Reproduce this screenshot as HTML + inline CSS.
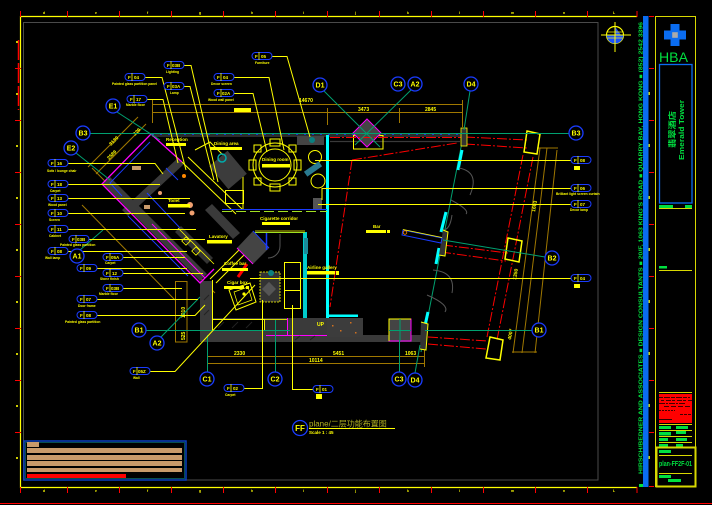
<!DOCTYPE html>
<html><head><meta charset="utf-8"><style>
html,body{margin:0;padding:0;background:#000;}
svg{display:block}
text{font-family:"Liberation Sans","Noto Sans CJK SC",sans-serif;font-weight:bold;}
</style></head><body>
<svg width="712" height="505" viewBox="0 0 712 505" xmlns="http://www.w3.org/2000/svg">
<rect width="712" height="505" fill="#000"/>

<!-- ===== FRAME ===== -->
<line x1="0" y1="503.5" x2="712" y2="503.5" stroke="#f00" stroke-width="1"/>
<polyline points="637,16.5 20.5,16.5 20.5,487.5 637,487.5" fill="none" stroke="#ff0" stroke-width="1.2"/>
<rect x="23.5" y="22.5" width="574.5" height="457.5" fill="none" stroke="#4a4a4a" stroke-width="1"/>
<g stroke="#f00" stroke-width="1">
<line x1="20.5" y1="11" x2="20.5" y2="17"/><line x1="67.5" y1="11" x2="67.5" y2="17"/><line x1="119.5" y1="11" x2="119.5" y2="17"/><line x1="171.5" y1="11" x2="171.5" y2="17"/><line x1="223.5" y1="11" x2="223.5" y2="17"/><line x1="275.5" y1="11" x2="275.5" y2="17"/><line x1="327.5" y1="11" x2="327.5" y2="17"/><line x1="379.5" y1="11" x2="379.5" y2="17"/><line x1="431.5" y1="11" x2="431.5" y2="17"/><line x1="483.5" y1="11" x2="483.5" y2="17"/><line x1="535.5" y1="11" x2="535.5" y2="17"/><line x1="587.5" y1="11" x2="587.5" y2="17"/><line x1="637" y1="11" x2="637" y2="17"/>
<line x1="20.5" y1="487" x2="20.5" y2="493"/><line x1="67.5" y1="487" x2="67.5" y2="493"/><line x1="119.5" y1="487" x2="119.5" y2="493"/><line x1="171.5" y1="487" x2="171.5" y2="493"/><line x1="223.5" y1="487" x2="223.5" y2="493"/><line x1="275.5" y1="487" x2="275.5" y2="493"/><line x1="327.5" y1="487" x2="327.5" y2="493"/><line x1="379.5" y1="487" x2="379.5" y2="493"/><line x1="431.5" y1="487" x2="431.5" y2="493"/><line x1="483.5" y1="487" x2="483.5" y2="493"/><line x1="535.5" y1="487" x2="535.5" y2="493"/><line x1="587.5" y1="487" x2="587.5" y2="493"/><line x1="637" y1="487" x2="637" y2="493"/>
<line x1="15" y1="68.5" x2="21" y2="68.5"/><line x1="15" y1="120.5" x2="21" y2="120.5"/><line x1="15" y1="172.5" x2="21" y2="172.5"/><line x1="15" y1="224.5" x2="21" y2="224.5"/><line x1="15" y1="276.5" x2="21" y2="276.5"/><line x1="15" y1="328.5" x2="21" y2="328.5"/><line x1="15" y1="380.5" x2="21" y2="380.5"/><line x1="15" y1="432.5" x2="21" y2="432.5"/>
<line x1="649" y1="16.5" x2="654" y2="16.5"/><line x1="649" y1="68.5" x2="654" y2="68.5"/><line x1="649" y1="120.5" x2="654" y2="120.5"/><line x1="649" y1="172.5" x2="654" y2="172.5"/><line x1="649" y1="224.5" x2="654" y2="224.5"/><line x1="649" y1="276.5" x2="654" y2="276.5"/><line x1="649" y1="328.5" x2="654" y2="328.5"/><line x1="649" y1="380.5" x2="654" y2="380.5"/><line x1="649" y1="432.5" x2="654" y2="432.5"/><line x1="649" y1="486.5" x2="654" y2="486.5"/>
</g>
<line x1="18.5" y1="40" x2="18.5" y2="110" stroke="#f00" stroke-width="1.5" stroke-dasharray="20,3"/>
<g fill="#ff0" font-size="3.5">
<text x="43" y="14">d</text><text x="95" y="14">e</text><text x="147" y="14">f</text><text x="199" y="14">g</text><text x="251" y="14">h</text><text x="303" y="14">i</text><text x="355" y="14">j</text><text x="407" y="14">k</text><text x="459" y="14">l</text><text x="511" y="14">m</text><text x="563" y="14">n</text><text x="613" y="14">L</text>
<text x="43" y="492">d</text><text x="95" y="492">e</text><text x="147" y="492">f</text><text x="199" y="492">g</text><text x="251" y="492">h</text><text x="303" y="492">i</text><text x="355" y="492">j</text><text x="407" y="492">k</text><text x="459" y="492">l</text><text x="511" y="492">m</text><text x="563" y="492">n</text><text x="613" y="492">L</text>
</g>
<g fill="#cc0"><rect x="16" y="41" width="2" height="2"/><rect x="16" y="93" width="2" height="2"/><rect x="16" y="145" width="2" height="2"/><rect x="16" y="197" width="2" height="2"/><rect x="16" y="249" width="2" height="2"/><rect x="16" y="301" width="2" height="2"/><rect x="16" y="353" width="2" height="2"/><rect x="16" y="405" width="2" height="2"/><rect x="16" y="457" width="2" height="2"/>
<rect x="648" y="92" width="2" height="3"/><rect x="648" y="144" width="2" height="3"/><rect x="648" y="196" width="2" height="3"/><rect x="648" y="248" width="2" height="3"/><rect x="648" y="300" width="2" height="3"/><rect x="648" y="352" width="2" height="3"/><rect x="648" y="404" width="2" height="3"/><rect x="648" y="456" width="2" height="3"/></g>

<!-- compass -->
<g>
<circle cx="615" cy="35" r="8.5" fill="#000" stroke="#ff0" stroke-width="1.2"/>
<path d="M606.5,35 A8.5,8.5 0 0 0 623.5,35 Z" fill="#1a50ff"/>
<path d="M615,26.5 L621,35 L615,35 Z" fill="#1a50ff"/>
<line x1="601" y1="35" x2="631" y2="35" stroke="#ff0" stroke-width="1"/>
<line x1="615" y1="22" x2="615" y2="52" stroke="#ff0" stroke-width="1"/>
<line x1="607" y1="32" x2="623" y2="32" stroke="#ff0" stroke-width="0.7"/>
<line x1="607" y1="38" x2="623" y2="38" stroke="#ff0" stroke-width="0.7"/>
</g>

<!-- blue bar + vertical green text -->
<rect x="643" y="16" width="5.5" height="471" fill="#0a6cf0"/>
<text transform="translate(642.6,474) rotate(-90)" font-size="5.5" fill="#00e040" textLength="452" lengthAdjust="spacingAndGlyphs">HIRSCH/BEDNER AND ASSOCIATES ■ DESIGN CONSULTANTS ■ 20/F, 1063 KING'S ROAD ■ QUARRY BAY, HONG KONG ■ (852) 2542 3396</text>
<rect x="639" y="484" width="4" height="3" fill="#00e040"/>

<!-- ===== TITLE BLOCK ===== -->
<rect x="655.5" y="16.5" width="40" height="470" fill="none" stroke="#d8d800" stroke-width="1"/>
<g transform="translate(675,35)">
<rect x="-4.5" y="-11" width="9" height="22" fill="#0a6cf0"/>
<rect x="-11" y="-4.5" width="22" height="9" fill="#0a6cf0"/>
<rect x="-6" y="-6" width="12" height="12" fill="#0a6cf0" transform="rotate(45)"/>
<rect x="-2.8" y="-2.8" width="5.6" height="5.6" fill="#aaa"/>
</g>
<text x="659" y="62" font-size="14" fill="#00e040" textLength="29" lengthAdjust="spacingAndGlyphs" style="font-weight:normal">HBA</text>
<rect x="659.5" y="64.5" width="32.5" height="138.5" fill="none" stroke="#0a6cf0" stroke-width="1.3"/>
<text transform="translate(675,148) rotate(-90)" font-size="8" fill="#00e040" textLength="37" lengthAdjust="spacingAndGlyphs">翡翠酒店</text>
<text transform="translate(684,160) rotate(-90)" font-size="7" fill="#00e040" textLength="60" lengthAdjust="spacingAndGlyphs">Emerald Tower</text>
<rect x="659" y="205" width="14" height="3" fill="#00e040"/><rect x="685" y="205" width="7" height="3" fill="#00e040"/>
<line x1="659" y1="208.5" x2="692" y2="208.5" stroke="#d8d800"/>
<rect x="659" y="266" width="8" height="2.5" fill="#00e040"/>
<line x1="659" y1="270.5" x2="692" y2="270.5" stroke="#d8d800"/>
<line x1="659" y1="392.5" x2="692" y2="392.5" stroke="#d8d800"/>
<rect x="659" y="394" width="33" height="29" fill="#f00"/>
<g stroke="#000" stroke-width="0.8">
<line x1="659" y1="397.5" x2="690" y2="397.5" stroke-dasharray="4,1,6,1"/>
<line x1="661" y1="400.5" x2="692" y2="400.5" stroke-dasharray="3,2,5,1"/>
<line x1="659" y1="403.5" x2="685" y2="403.5" stroke-dasharray="6,1,2,1"/>
<line x1="664" y1="406.5" x2="692" y2="406.5" stroke-dasharray="5,2"/>
<line x1="659" y1="410.5" x2="675" y2="410.5" stroke-dasharray="2,1"/>
<line x1="680" y1="414.5" x2="692" y2="414.5" stroke-dasharray="3,1"/>
<line x1="659" y1="419.5" x2="672" y2="419.5"/>
</g>
<line x1="659" y1="424.5" x2="692" y2="424.5" stroke="#d8d800"/>
<g fill="#00e040">
<rect x="659" y="426" width="12" height="3"/><rect x="676" y="426" width="12" height="3"/>
<rect x="659" y="432" width="12" height="3.5"/><rect x="676" y="431" width="10" height="3"/>
<rect x="659" y="438" width="9" height="3"/><rect x="676" y="438" width="11" height="3"/>
<rect x="659" y="444" width="9" height="3"/><rect x="676" y="444" width="7" height="3"/>
</g>
<g stroke="#d8d800"><line x1="659" y1="430.5" x2="692" y2="430.5"/><line x1="659" y1="436.5" x2="692" y2="436.5"/><line x1="659" y1="442.5" x2="692" y2="442.5"/></g>
<rect x="656.5" y="447.5" width="39" height="39" fill="none" stroke="#d8d800" stroke-width="2"/>
<rect x="659" y="450" width="12" height="3" fill="#00e040"/>
<line x1="659" y1="455.5" x2="692" y2="455.5" stroke="#d8d800"/>
<text x="659" y="466" font-size="7" fill="#00e040" textLength="33" lengthAdjust="spacingAndGlyphs">plan-FF2F-01</text>
<line x1="659" y1="473.5" x2="692" y2="473.5" stroke="#d8d800"/>
<rect x="659" y="475" width="12" height="3" fill="#00e040"/>
<rect x="668" y="479" width="13" height="3" fill="#00e040"/>

<!-- ===== LEGEND BOX ===== -->
<rect x="24" y="441" width="162" height="39" fill="#000" stroke="#0a40c0" stroke-width="1.5"/>
<rect x="25.5" y="442.5" width="159" height="36" fill="none" stroke="#0a7070" stroke-width="0.7"/>
<g fill="#c89a6a">
<rect x="27" y="442" width="12" height="5"/>
<rect x="27" y="448" width="155" height="5"/>
<rect x="27" y="455" width="155" height="5"/>
<rect x="27" y="461" width="155" height="5"/>
<rect x="27" y="468" width="155" height="4"/>
</g>
<rect x="27" y="474" width="99" height="4" fill="#f00"/>

<!-- ===== TITLE FF ===== -->
<circle cx="300" cy="428" r="7.5" fill="#000" stroke="#1a3cff" stroke-width="1.3"/>
<text x="300" y="431" font-size="8" fill="#ff0" text-anchor="middle">FF</text>
<text x="309" y="426.5" font-size="8" fill="#b0b020" style="font-weight:normal">plane/二层功能布置图</text>
<line x1="309" y1="428.5" x2="395" y2="428.5" stroke="#ff0" stroke-width="1"/>
<text x="309" y="434" font-size="4.5" fill="#ff0">Scale 1 : 45</text>

<!-- ===== PLAN: dimension lines (brown) ===== -->
<g stroke="#a07800" stroke-width="1" fill="none">
<line x1="152" y1="104.5" x2="463" y2="104.5"/>
<line x1="152" y1="112.5" x2="463" y2="112.5"/>
<line x1="152.5" y1="100" x2="152.5" y2="123"/>
<line x1="327.5" y1="108" x2="327.5" y2="125"/>
<line x1="399.5" y1="108" x2="399.5" y2="123"/>
<line x1="462.5" y1="100" x2="462.5" y2="127"/>
<line x1="207" y1="356.5" x2="425" y2="356.5"/>
<line x1="207" y1="363.5" x2="425" y2="363.5"/>
<line x1="207.5" y1="340" x2="207.5" y2="367"/>
<line x1="399.5" y1="345" x2="399.5" y2="358"/>
<line x1="424.5" y1="340" x2="424.5" y2="367"/>
<rect x="175.5" y="281.5" width="11.5" height="60.5"/>
<line x1="138" y1="117" x2="88" y2="167"/>
<line x1="146" y1="124" x2="96" y2="174"/>
<line x1="92" y1="168" x2="215" y2="293"/>
<line x1="82" y1="205" x2="175" y2="300"/>
<line x1="540" y1="148" x2="513" y2="353"/>
<line x1="547" y1="148" x2="522" y2="353"/>
<line x1="557" y1="150" x2="535" y2="353"/>
<line x1="537" y1="148" x2="558" y2="148"/>
<line x1="512" y1="352" x2="537" y2="352"/>
</g>
<g fill="#ff0" font-size="5">
<text x="299" y="102">14670</text>
<rect x="234" y="108" width="17" height="4"/>
<text x="358" y="111">3473</text>
<text x="425" y="111">2845</text>
<text x="234" y="355">2330</text>
<text x="333" y="355">5451</text>
<text x="405" y="355">1063</text>
<text x="309" y="362">10114</text>
<text transform="translate(111,146) rotate(-45)">3130</text>
<text transform="translate(109,160) rotate(-45)">2589</text>
<text transform="translate(135,136) rotate(-45)">329</text>
<text transform="translate(185,318) rotate(-90)">1010</text>
<text transform="translate(185,340) rotate(-90)">525</text>
<text transform="translate(535,212) rotate(-80)">1603</text>
<text transform="translate(516,280) rotate(-80)">1350</text>
<text transform="translate(511,340) rotate(-80)">4007</text>
</g>

<!-- ===== walls / structure ===== -->
<rect x="200" y="318" width="130" height="24" fill="#3a3a3a"/>
<rect x="327" y="335" width="95" height="7" fill="#3a3a3a"/>
<rect x="200" y="281" width="12" height="61" fill="#3a3a3a"/>
<rect x="212.5" y="319.5" width="52" height="11" fill="#000" stroke="#ff0" stroke-width="1"/>
<rect x="264.5" y="319.5" width="23" height="11" fill="#2a2a2a" stroke="#ff0" stroke-width="0.8"/>
<line x1="212.5" y1="280" x2="212.5" y2="320" stroke="#ff0"/>
<line x1="287.5" y1="318" x2="287.5" y2="336" stroke="#f0f"/>
<line x1="266" y1="335.5" x2="327" y2="335.5" stroke="#f0f"/>
<g stroke="#222" stroke-width="1"><line x1="218" y1="328" x2="224" y2="322"/><line x1="232" y1="328" x2="238" y2="322"/><line x1="246" y1="328" x2="252" y2="322"/><line x1="204" y1="300" x2="209" y2="295"/><line x1="204" y1="315" x2="209" y2="310"/><line x1="295" y1="340" x2="300" y2="336"/><line x1="310" y1="340" x2="315" y2="336"/></g>
<rect x="327" y="318" width="36" height="19" fill="#3c3c3c"/>
<g fill="#d07020"><rect x="332" y="325" width="1.5" height="1.5"/><rect x="340" y="330" width="1.5" height="1.5"/><rect x="350" y="322" width="1.5" height="1.5"/><rect x="355" y="332" width="1.5" height="1.5"/></g>
<rect x="389" y="319" width="22" height="22" fill="#444" stroke="#f0f" stroke-width="1"/>
<polyline points="389,341 389,319 411,319" fill="none" stroke="#ff0" stroke-width="1"/>

<!-- top wall -->
<rect x="152" y="134" width="313" height="3" fill="#2c2c2c"/>
<line x1="152" y1="134.5" x2="465" y2="134.5" stroke="#1a3cff" stroke-width="0.8" stroke-dasharray="2,6"/>
<rect x="297" y="136" width="27" height="9" fill="#444"/>
<circle cx="312" cy="140" r="3" fill="#0a8080"/>
<line x1="330" y1="141.5" x2="460" y2="141.5" stroke="#3a3a3a" stroke-width="1.2"/>

<!-- cyan interior wall -->
<rect x="326" y="135" width="3" height="183" fill="#0ff"/>
<rect x="326" y="314.5" width="32" height="2.5" fill="#0ff"/>
<rect x="303" y="232" width="4" height="86" fill="#0cc"/>
<rect x="304" y="238" width="4" height="16" fill="#1a8a9a"/>

<!-- top diamond column -->
<rect x="353.5" y="135.5" width="29.5" height="13.5" fill="none" stroke="#ff0" stroke-width="1"/>
<polygon points="367,119 381,133 367,147 353,133" fill="#444" stroke="#f0f" stroke-width="1"/>

<!-- red lines -->
<g stroke="#f00" stroke-width="1" fill="none" stroke-dasharray="10,2,2,2">
<line x1="330" y1="137.5" x2="463" y2="137.5"/>
<line x1="352" y1="160" x2="330" y2="307"/>
<line x1="352" y1="160" x2="457" y2="143"/>
<line x1="465" y1="137" x2="527" y2="140"/>
<line x1="465" y1="144" x2="527" y2="148"/>
<line x1="443" y1="245" x2="508" y2="253"/>
<line x1="441" y1="252" x2="506" y2="261"/>
<line x1="428" y1="337" x2="487" y2="341"/>
<line x1="428" y1="344" x2="486" y2="349"/>
<line x1="523" y1="155" x2="487" y2="337"/>
<line x1="533" y1="157" x2="497" y2="340"/>
</g>

<!-- curtain wall -->
<line x1="464" y1="132" x2="421" y2="352" stroke="#00a070" stroke-width="1"/>
<g stroke="#0ff" stroke-width="3"><line x1="462" y1="150" x2="458" y2="170"/><line x1="446" y1="212" x2="441" y2="232"/><line x1="439" y1="248" x2="436" y2="264"/><line x1="428" y1="312" x2="424" y2="330"/></g>
<g stroke="#555" stroke-width="1" fill="none">
<path d="M459,168 Q480,172 470,195"/>
<path d="M451,200 Q470,210 466,214"/>
<path d="M443,230 Q450,230 452,215"/>
<path d="M433,270 Q456,272 452,293"/>
<path d="M427,295 Q450,305 445,312"/>
</g>
<rect x="461" y="128" width="6" height="18" fill="#333" stroke="#ff0" stroke-width="0.8"/>
<polyline points="421,322 428,324 426,350 420,349" fill="#333" stroke="#ff0" stroke-width="1"/>
<polyline points="443,230 448,232 445,256 439,255" fill="#333" stroke="#ff0" stroke-width="1"/>

<!-- bar window -->
<polygon points="403,230 442,238 441,243 402,235" fill="#000" stroke="#1a3cff" stroke-width="1"/>
<line x1="403" y1="229.5" x2="442" y2="237.5" stroke="#ff0" stroke-width="0.8"/>
<circle cx="405" cy="232.5" r="1.8" fill="none" stroke="#f80" stroke-width="0.8"/>

<!-- right columns -->
<g fill="none" stroke="#ff0" stroke-width="1.5">
<polygon points="527,131 540,134 537,154 524,152"/>
<polygon points="508,238 522,241 519,262 505,259"/>
<polygon points="490,337 503,340 500,360 486,358"/>
</g>

<!-- ===== diagonal wing ===== -->
<polygon points="103,184 110,177 207,274 200,281" fill="#3a3a3a"/>
<polygon points="178,158 184,164 128,216 122,210" fill="#3a3a3a"/>
<polygon points="175,232 181,226 213,258 207,264" fill="#333"/>
<polygon points="205,210 212,204 240,233 233,239" fill="#3a3a3a"/>
<polyline points="182,162 151,134 102,184 200,283 214,269" fill="none" stroke="#f0f" stroke-width="1.3"/>
<line x1="152" y1="224" x2="205" y2="278" stroke="#f0f" stroke-width="1"/>
<g stroke="#1a3cff" stroke-width="1" fill="none">
<polyline points="150,142 110,183 122,196"/>
<line x1="147" y1="193" x2="180" y2="228"/>
<line x1="128" y1="216" x2="188" y2="276"/>
<line x1="166" y1="168" x2="178" y2="180"/>
</g>
<g stroke="#ff0" stroke-width="0.8" fill="none">
<line x1="178" y1="228" x2="214" y2="264"/>
<rect x="183" y="238" width="6" height="6" transform="rotate(45 186 241)"/>
<rect x="193" y="248" width="6" height="6" transform="rotate(45 196 251)"/>
</g>
<rect x="132" y="166" width="9" height="4" fill="#c89a6a"/>
<rect x="144" y="205" width="6" height="4" fill="#c89a6a"/>
<g fill="#f0a070"><circle cx="190" cy="205" r="3"/><circle cx="192" cy="213" r="2.5"/><circle cx="160" cy="193" r="2"/></g>
<circle cx="184" cy="176" r="2" fill="#f80"/>
<g stroke="#ff0" stroke-width="1" fill="none">
<line x1="182" y1="162" x2="236" y2="214"/>
<line x1="188" y1="157" x2="242" y2="209"/>
<polyline points="195,150 210,142 243,175 243,210"/>
<rect x="225.5" y="190.5" width="18" height="13"/>
<line x1="255" y1="234" x2="210" y2="279"/>
<line x1="260" y1="239" x2="216" y2="283"/>
</g>
<!-- dining area -->
<rect x="216" y="155" width="24" height="30" fill="#3c3c3c" transform="rotate(-40 228 170)"/>
<circle cx="222" cy="158" r="4" fill="none" stroke="#0aa" stroke-width="1.5"/>
<!-- dining room table -->
<g fill="none" stroke="#ff0" stroke-width="1">
<circle cx="275" cy="165" r="22"/>
<circle cx="275" cy="165" r="16"/>
<rect x="270" y="139" width="10" height="7"/>
<rect x="270" y="184" width="10" height="7"/>
<rect x="249" y="160" width="7" height="10"/>
<rect x="294" y="160" width="7" height="10"/>
<rect x="254" y="145" width="7" height="7"/>
<rect x="289" y="145" width="7" height="7"/>
<rect x="254" y="178" width="7" height="7"/>
<rect x="289" y="178" width="7" height="7"/>
<circle cx="315" cy="157" r="6.5"/>
<circle cx="318" cy="181" r="7"/>
</g>
<rect x="304" y="166" width="18" height="6" fill="#2a7a90" transform="rotate(-35 313 169)"/>
<rect x="313" y="198" width="9" height="12" fill="#555"/>
<!-- corridor walls -->
<line x1="222" y1="209.5" x2="327" y2="209.5" stroke="#1a3cff" stroke-width="1"/>
<line x1="222" y1="211.5" x2="327" y2="211.5" stroke="#a0e020" stroke-width="1" stroke-dasharray="10,4"/>
<line x1="255" y1="232.5" x2="305" y2="232.5" stroke="#a0e020" stroke-width="1"/>
<line x1="255" y1="231" x2="305" y2="231" stroke="#ff0" stroke-width="0.8"/>
<!-- lavatory block -->
<polygon points="253,231 269,248 253,264 237,248" fill="#444"/>
<polyline points="237,248 253,264" fill="none" stroke="#f0f" stroke-width="1"/>
<polyline points="253,231 269,248" fill="none" stroke="#1a3cff" stroke-width="1"/>
<line x1="266.5" y1="233" x2="266.5" y2="250" stroke="#1a3cff" stroke-width="1.5"/>
<path d="M268,258 A12,12 0 0 0 280,246" fill="none" stroke="#555" stroke-width="1"/>
<line x1="280" y1="234" x2="280" y2="246" stroke="#555"/>
<!-- cigar area -->
<rect x="260" y="272" width="20" height="30" fill="#333" stroke="#ff0" stroke-width="0.8" stroke-dasharray="2,1"/>
<circle cx="271" cy="273" r="3" fill="#0a8080"/>
<rect x="264" y="284" width="10" height="10" fill="#555" transform="rotate(45 269 289)"/>
<rect x="284.5" y="262.5" width="16" height="46" fill="none" stroke="#ff0" stroke-width="1"/>
<line x1="284.5" y1="290.5" x2="300.5" y2="290.5" stroke="#ff0"/>
<polygon points="229,290 250,283 256,302 236,310" fill="none" stroke="#ff0" stroke-width="1"/>
<polygon points="234,292 248,287 252,300 238,305" fill="none" stroke="#ff0" stroke-width="0.7"/>
<circle cx="244" cy="294" r="1.6" fill="#ff0"/>
<line x1="238" y1="277" x2="247" y2="264" stroke="#f00" stroke-width="3"/>

<!-- ===== teal grid lines ===== -->
<g stroke="#00a070" stroke-width="1" fill="none">
<line x1="90" y1="133.5" x2="569" y2="133.5"/>
<line x1="324" y1="91" x2="380" y2="147"/>
<line x1="411" y1="90" x2="355" y2="145"/>
<line x1="470" y1="91" x2="464" y2="130"/>
<line x1="117" y1="112" x2="160" y2="140"/>
<line x1="76" y1="153" x2="110" y2="180"/>
<line x1="146" y1="330.5" x2="290" y2="330.5"/>
<line x1="161" y1="337" x2="200" y2="297"/>
<line x1="207.5" y1="372" x2="207.5" y2="335"/>
<line x1="275.5" y1="372" x2="275.5" y2="320"/>
<line x1="399.5" y1="372" x2="399.5" y2="340"/>
<line x1="415" y1="373" x2="420" y2="345"/>
<line x1="443" y1="240" x2="545" y2="257"/>
<line x1="425" y1="330.5" x2="532" y2="330.5"/>
<line x1="389" y1="330.5" x2="411" y2="330.5"/>
<line x1="400" y1="319" x2="400" y2="341"/>
<line x1="80" y1="250" x2="103" y2="230"/>
</g>

<!-- ===== yellow leader lines ===== -->
<g stroke="#ff0" stroke-width="1" fill="none">
<line x1="315" y1="160.5" x2="573" y2="160.5"/>
<polyline points="322,200 322,188.5 573,188.5"/>
<line x1="318" y1="204.5" x2="573" y2="204.5"/>
<line x1="250" y1="278.5" x2="573" y2="278.5"/>
<polyline points="68,163.5 155,163.5 163,174"/>
<line x1="68" y1="184.5" x2="160" y2="184.5"/>
<line x1="68" y1="198.5" x2="190" y2="198.5"/>
<line x1="68" y1="213.5" x2="185" y2="213.5"/>
<line x1="68" y1="229.5" x2="196" y2="229.5"/>
<line x1="89" y1="239.5" x2="205" y2="239.5"/>
<line x1="68" y1="251.5" x2="187" y2="251.5"/>
<line x1="123" y1="257.5" x2="185" y2="257.5"/>
<line x1="97" y1="268.5" x2="187" y2="268.5"/>
<line x1="123" y1="273.5" x2="203" y2="273.5"/>
<line x1="123" y1="288.5" x2="182" y2="288.5"/>
<line x1="97" y1="299.5" x2="198" y2="299.5"/>
<polyline points="97,315.5 195,315.5 205,305"/>
<polyline points="150,371.5 175,371.5 255,285"/>
<polyline points="244,388.5 262.5,388.5 262.5,300"/>
<polyline points="313,389.5 292.5,389.5 292.5,305"/>
<polyline points="144,77.5 162,77.5 186,170"/>
<polyline points="146,99.5 163,99.5 178,163"/>
<polyline points="183,65.5 191,65.5 218,182"/>
<polyline points="183,86.5 190,86.5 214,180"/>
<polyline points="233,77.5 269,77.5 284,150"/>
<polyline points="233,93.5 253,93.5 267,152"/>
<polyline points="271,56.5 287,56.5 310,137"/>
</g>

<!-- ===== room labels ===== -->
<g fill="#ff0" font-size="4.5">
<text x="166" y="141">Reception</text><rect x="166" y="143" width="20" height="3"/>
<text x="214" y="145">Dining area</text><rect x="210" y="147" width="32" height="3"/>
<text x="262" y="161">Dining room</text><rect x="262" y="164" width="28" height="3.5"/>
<text x="260" y="220">Cigarette corridor</text><rect x="262" y="222" width="28" height="3"/>
<text x="209" y="238">Lavatory</text><rect x="207" y="240" width="25" height="3.5"/>
<text x="168" y="202">Toilet</text><rect x="168" y="204" width="22" height="3.5"/>
<text x="373" y="228">Bar</text><rect x="366" y="230" width="20" height="3"/><rect x="387" y="230" width="3" height="3"/>
<text x="307" y="269">Airline gallery</text><rect x="307" y="271" width="28" height="3.5"/><rect x="336" y="271" width="3" height="4"/>
<text x="224" y="265">Coffee bar</text><rect x="222" y="268" width="26" height="3"/>
<text x="227" y="284">Cigar box</text><rect x="224" y="286" width="20" height="3"/><rect x="246" y="286" width="3" height="3"/>
<text x="317" y="326" font-size="5">UP</text>
</g>

<!-- ===== tags ===== -->
<g fill="#000" stroke="#1a3cff" stroke-width="1">
<rect x="125" y="73.5" width="20" height="7" rx="3.5"/>
<rect x="127" y="95.5" width="20" height="7" rx="3.5"/>
<rect x="164" y="61.5" width="20" height="7" rx="3.5"/>
<rect x="164" y="82.5" width="20" height="7" rx="3.5"/>
<rect x="214" y="73.5" width="20" height="7" rx="3.5"/>
<rect x="214" y="89.5" width="20" height="7" rx="3.5"/>
<rect x="252" y="52.5" width="20" height="7" rx="3.5"/>
<rect x="48" y="159.5" width="20" height="7" rx="3.5"/>
<rect x="48" y="180.5" width="20" height="7" rx="3.5"/>
<rect x="48" y="194.5" width="20" height="7" rx="3.5"/>
<rect x="48" y="209.5" width="20" height="7" rx="3.5"/>
<rect x="48" y="225.5" width="20" height="7" rx="3.5"/>
<rect x="69" y="235.5" width="20" height="7" rx="3.5"/>
<rect x="48" y="247.5" width="20" height="7" rx="3.5"/>
<rect x="103" y="253.5" width="20" height="7" rx="3.5"/>
<rect x="77" y="264.5" width="20" height="7" rx="3.5"/>
<rect x="103" y="269.5" width="20" height="7" rx="3.5"/>
<rect x="103" y="284.5" width="20" height="7" rx="3.5"/>
<rect x="77" y="295.5" width="20" height="7" rx="3.5"/>
<rect x="77" y="311.5" width="20" height="7" rx="3.5"/>
<rect x="130" y="367.5" width="20" height="7" rx="3.5"/>
<rect x="224" y="384.5" width="20" height="7" rx="3.5"/>
<rect x="313" y="385.5" width="20" height="7" rx="3.5"/>
<rect x="571" y="156.5" width="20" height="7" rx="3.5"/>
<rect x="571" y="184.5" width="20" height="7" rx="3.5"/>
<rect x="571" y="200.5" width="20" height="7" rx="3.5"/>
<rect x="571" y="274.5" width="20" height="7" rx="3.5"/>
</g>
<g fill="#ff0" font-size="4.5">
<text x="128" y="79">F</text><text x="134" y="79">04</text>
<text x="130" y="101">F</text><text x="136" y="101">17</text>
<text x="167" y="67">F</text><text x="172" y="67">03B</text>
<text x="167" y="88">F</text><text x="172" y="88">03A</text>
<text x="217" y="79">F</text><text x="223" y="79">04</text>
<text x="217" y="95">F</text><text x="222" y="95">02A</text>
<text x="255" y="58">F</text><text x="261" y="58">05</text>
<text x="51" y="165">F</text><text x="57" y="165">16</text>
<text x="51" y="186">F</text><text x="57" y="186">18</text>
<text x="51" y="200">F</text><text x="57" y="200">13</text>
<text x="51" y="215">F</text><text x="57" y="215">10</text>
<text x="51" y="231">F</text><text x="57" y="231">11</text>
<text x="72" y="241">F</text><text x="77" y="241">03B</text>
<text x="51" y="253">F</text><text x="57" y="253">08</text>
<text x="106" y="259">F</text><text x="111" y="259">05A</text>
<text x="80" y="270">F</text><text x="86" y="270">09</text>
<text x="106" y="275">F</text><text x="112" y="275">12</text>
<text x="106" y="290">F</text><text x="111" y="290">03B</text>
<text x="80" y="301">F</text><text x="86" y="301">07</text>
<text x="80" y="317">F</text><text x="86" y="317">08</text>
<text x="133" y="373">F</text><text x="138" y="373">05Z</text>
<text x="227" y="390">F</text><text x="233" y="390">02</text>
<text x="316" y="391">F</text><text x="322" y="391">01</text>
<text x="574" y="162">F</text><text x="580" y="162">08</text>
<text x="574" y="190">F</text><text x="580" y="190">06</text>
<text x="574" y="206">F</text><text x="580" y="206">07</text>
<text x="574" y="280">F</text><text x="580" y="280">04</text>
</g>
<g stroke="#ff0" stroke-width="0.8">
<line x1="132" y1="73" x2="132" y2="81"/><line x1="134" y1="95" x2="134" y2="103"/><line x1="171" y1="61" x2="171" y2="69"/><line x1="171" y1="82" x2="171" y2="90"/><line x1="221" y1="73" x2="221" y2="81"/><line x1="221" y1="89" x2="221" y2="97"/><line x1="259" y1="52" x2="259" y2="60"/>
<line x1="55" y1="159" x2="55" y2="167"/><line x1="55" y1="180" x2="55" y2="188"/><line x1="55" y1="194" x2="55" y2="202"/><line x1="55" y1="209" x2="55" y2="217"/><line x1="55" y1="225" x2="55" y2="233"/><line x1="76" y1="235" x2="76" y2="243"/><line x1="55" y1="247" x2="55" y2="255"/><line x1="110" y1="253" x2="110" y2="261"/><line x1="84" y1="264" x2="84" y2="272"/><line x1="110" y1="269" x2="110" y2="277"/><line x1="110" y1="284" x2="110" y2="292"/><line x1="84" y1="295" x2="84" y2="303"/><line x1="84" y1="311" x2="84" y2="319"/><line x1="137" y1="367" x2="137" y2="375"/><line x1="231" y1="384" x2="231" y2="392"/><line x1="320" y1="385" x2="320" y2="393"/>
<line x1="578" y1="156" x2="578" y2="164"/><line x1="578" y1="184" x2="578" y2="192"/><line x1="578" y1="200" x2="578" y2="208"/><line x1="578" y1="274" x2="578" y2="282"/>
</g>
<g fill="#ff0" font-size="3.3">
<text x="112" y="85">Painted glass partition panel</text>
<text x="126" y="106">Marble floor</text>
<text x="166" y="73">Lighting</text>
<text x="170" y="94">Lamp</text>
<text x="211" y="85">Decor screen</text>
<text x="208" y="101">Wood wall panel</text>
<text x="255" y="64">Furniture</text>
<text x="47" y="172">Sofa / lounge chair</text>
<text x="50" y="192">Carpet</text>
<text x="48" y="206">Wood panel</text>
<text x="49" y="221">Screen</text>
<text x="49" y="237">Cabinet</text>
<text x="60" y="246">Painted glass partition</text>
<text x="45" y="259">Wall lamp</text>
<text x="105" y="264">Carpet</text>
<text x="100" y="280">Stone finish</text>
<text x="99" y="295">Marble floor</text>
<text x="78" y="307">Door frame</text>
<text x="65" y="323">Painted glass partition</text>
<text x="133" y="379">Wall</text>
<text x="225" y="396">Carpet</text>
<rect x="316" y="394" width="6" height="5"/>
<rect x="574" y="166" width="6" height="4"/>
<text x="556" y="195">Brilliant light screen curtain</text>
<text x="570" y="211">Decor lamp</text>
<rect x="574" y="284" width="6" height="4"/>
</g>

<!-- ===== bubbles ===== -->
<g fill="#000" stroke="#1a3cff" stroke-width="1.3">
<circle cx="320" cy="85" r="7"/>
<circle cx="398" cy="84" r="7"/>
<circle cx="415" cy="84" r="7"/>
<circle cx="471" cy="84" r="7"/>
<circle cx="113" cy="106" r="7"/>
<circle cx="83" cy="133" r="7"/>
<circle cx="71" cy="148" r="7"/>
<circle cx="576" cy="133" r="7"/>
<circle cx="552" cy="258" r="7"/>
<circle cx="539" cy="330" r="7"/>
<circle cx="77" cy="256" r="7"/>
<circle cx="139" cy="330" r="7"/>
<circle cx="157" cy="343" r="7"/>
<circle cx="207" cy="379" r="7"/>
<circle cx="275" cy="379" r="7"/>
<circle cx="399" cy="379" r="7"/>
<circle cx="415" cy="380" r="7"/>
</g>
<g fill="#ff0" font-size="7" text-anchor="middle" style="font-weight:normal">
<text x="320" y="87.5">D1</text>
<text x="398" y="86.5">C3</text>
<text x="415" y="86.5">A2</text>
<text x="471" y="86.5">D4</text>
<text x="113" y="108.5">E1</text>
<text x="83" y="135.5">B3</text>
<text x="71" y="150.5">E2</text>
<text x="576" y="135.5">B3</text>
<text x="552" y="260.5">B2</text>
<text x="539" y="332.5">B1</text>
<text x="77" y="258.5">A1</text>
<text x="139" y="332.5">B1</text>
<text x="157" y="345.5">A2</text>
<text x="207" y="381.5">C1</text>
<text x="275" y="381.5">C2</text>
<text x="399" y="381.5">C3</text>
<text x="415" y="382.5">D4</text>
</g>
</svg>
</body></html>
